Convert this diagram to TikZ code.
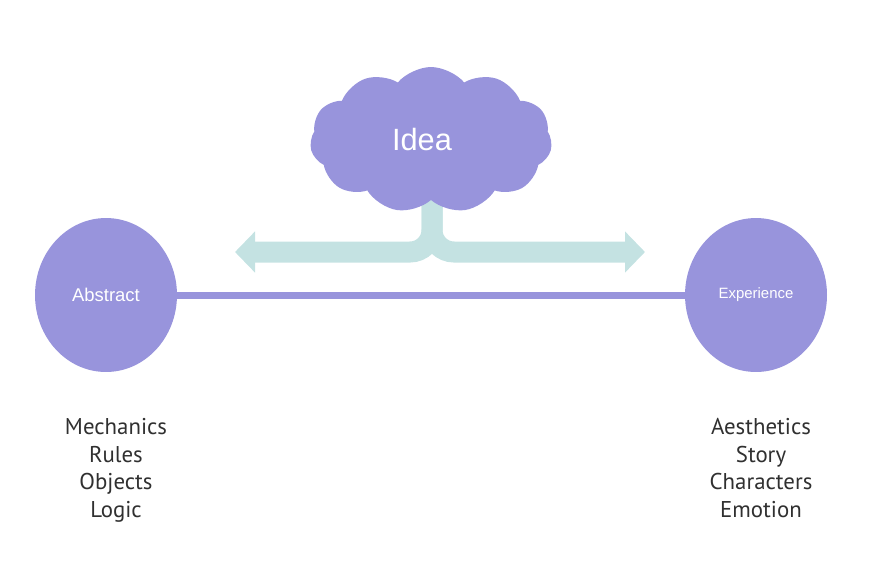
\documentclass[tikz,border=0pt]{standalone}
\usepackage{fontspec}
\setmainfont{Liberation Sans}
\newfontfamily\listfont{PT Sans}
\usetikzlibrary{positioning,shapes.geometric,shapes.symbols,arrows.meta}
\definecolor{ideapurple}{RGB}{152,148,220}
\definecolor{branchteal}{RGB}{196,226,226}
\definecolor{listgray}{RGB}{48,48,48}

\begin{document}
\begin{tikzpicture}[x=0.02cm,y=-0.02cm,
    pole/.style={ellipse,fill=ideapurple,minimum width=2.84cm,minimum height=3.08cm,inner sep=0pt,text=white},
    items/.style={align=center,text=listgray,font=\listfont\fontsize{13}{15.8}\selectfont},
    branch/.style={branchteal,line width=0.42cm,rounded corners=0.44cm,-{Triangle[width=0.8cm,length=0.4cm]}}]

    \useasboundingbox (0,0) rectangle (874,572);

    % the two poles and the line between them
    \node[pole,font=\fontsize{10.5}{12}\selectfont] (abstract) at (106,295) {Abstract};
    \node[pole,font=\fontsize{8.5}{10}\selectfont] (experience) at (756,295) {Experience};
    \draw[ideapurple,line width=0.14cm] (abstract) -- (experience);

    % branches under the cloud
    \coordinate (stem) at (432,200);
    \coordinate (lefttip) at (235,252);
    \coordinate (righttip) at (645,252);
    \draw[branch] (stem) |- (lefttip);
    \draw[branch] (stem) |- (righttip);

    \node[cloud,cloud puffs=11,cloud puff arc=100,fill=ideapurple,minimum width=4.84cm,minimum height=2.92cm,inner sep=0pt,
      text=white,font=\fontsize{17.5}{20}\selectfont] (idea) at (431,140) {\hspace*{-0.36cm}Idea};

    \node[items,anchor=north] (mechanics) at (116,412) {Mechanics\\Rules\\Objects\\Logic};
    \node[items,anchor=north] (aesthetics) at (761,412) {Aesthetics\\Story\\Characters\\Emotion};

\end{tikzpicture}
\end{document}
